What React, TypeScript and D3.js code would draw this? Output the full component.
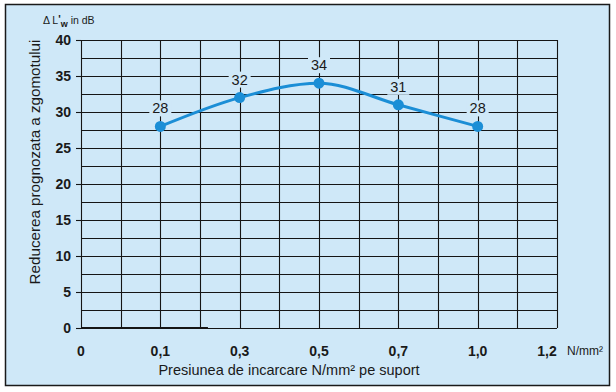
import { useEffect, useRef } from "react";
import * as d3 from "d3";

const xCategories = ["0", "0,1", "0,3", "0,5", "0,7", "1,0", "1,2"];
const pointCategories = ["0,1", "0,3", "0,5", "0,7", "1,0"];
const reductionValues = [28, 32, 34, 31, 28];
const yTicks = [0, 5, 10, 15, 20, 25, 30, 35, 40];

export default function App() {
  const svgRef = useRef<SVGSVGElement | null>(null);

  useEffect(() => {
    if (!svgRef.current) return;
    const svg = d3.select(svgRef.current);
    svg.selectAll("*").remove();

    const width = 616;
    const height = 392;
    const left = 81;
    const right = 557;
    const top = 40;
    const bottom = 328;
    const bg = "#cfe8f8";
    const font = "'Liberation Sans', Arial, sans-serif";

    svg.attr("width", width).attr("height", height);

    // panel
    svg
      .append("rect")
      .attr("x", 5.5)
      .attr("y", 4.5)
      .attr("width", 604)
      .attr("height", 381)
      .attr("fill", bg)
      .attr("stroke", "#1a1a1a")
      .attr("stroke-width", 1.5);

    const x = d3.scalePoint<string>().domain(xCategories).range([left, right]);
    const y = d3.scaleLinear().domain([0, 40]).range([bottom, top]);
    const step = x.step();

    const grid = svg.append("g").attr("stroke", "#151515").attr("stroke-width", 1.1);

    // horizontal grid every 2.5 dB
    d3.range(0, 40.01, 2.5).forEach((v) => {
      grid
        .append("line")
        .attr("x1", left)
        .attr("x2", right)
        .attr("y1", Math.round(y(v)) + 0.5)
        .attr("y2", Math.round(y(v)) + 0.5);
    });

    // vertical grid every half step
    d3.range(0, xCategories.length * 2 - 1).forEach((i) => {
      const xp = Math.round(left + (i * step) / 2) + 0.5;
      grid
        .append("line")
        .attr("x1", xp)
        .attr("x2", xp)
        .attr("y1", top)
        .attr("y2", bottom);
    });

    // thicker start of the baseline
    svg
      .append("line")
      .attr("x1", left)
      .attr("x2", left + step * 1.6)
      .attr("y1", y(0))
      .attr("y2", y(0))
      .attr("stroke", "#151515")
      .attr("stroke-width", 2.2);

    // y ticks + labels
    yTicks.forEach((v) => {
      svg
        .append("line")
        .attr("x1", left - 5)
        .attr("x2", left)
        .attr("y1", Math.round(y(v)) + 0.5)
        .attr("y2", Math.round(y(v)) + 0.5)
        .attr("stroke", "#151515")
        .attr("stroke-width", 1.1);
      svg
        .append("text")
        .attr("x", 71)
        .attr("y", y(v) + 5)
        .attr("text-anchor", "end")
        .attr("font-family", font)
        .attr("font-size", 14)
        .attr("font-weight", "bold")
        .attr("fill", "#1a1a1a")
        .text(v);
    });

    // x tick labels (last one sits left of its gridline)
    xCategories.forEach((c, i) => {
      const last = i === xCategories.length - 1;
      svg
        .append("text")
        .attr("x", last ? x(c)! - 10 : x(c)!)
        .attr("y", 356)
        .attr("text-anchor", "middle")
        .attr("font-family", font)
        .attr("font-size", 14)
        .attr("font-weight", "bold")
        .attr("fill", "#1a1a1a")
        .text(c);
    });

    svg
      .append("text")
      .attr("x", 567)
      .attr("y", 355)
      .attr("font-family", font)
      .attr("font-size", 12)
      .attr("fill", "#1a1a1a")
      .text("N/mm²");

    // axis titles
    svg
      .append("text")
      .attr("x", 289)
      .attr("y", 375)
      .attr("text-anchor", "middle")
      .attr("font-family", font)
      .attr("font-size", 14.5)
      .attr("fill", "#1a1a1a")
      .text("Presiunea de incarcare N/mm² pe suport");

    svg
      .append("text")
      .attr("transform", `translate(40,${162}) rotate(-90)`)
      .attr("text-anchor", "middle")
      .attr("font-family", font)
      .attr("font-size", 15.2)
      .attr("fill", "#1a1a1a")
      .text("Reducerea prognozata a zgomotului");

    const unit = svg
      .append("text")
      .attr("x", 43)
      .attr("y", 24)
      .attr("font-family", font)
      .attr("font-size", 10.5)
      .attr("fill", "#1a1a1a");
    unit.append("tspan").text("Δ L");
    unit.append("tspan").attr("font-weight", "bold").attr("dy", -1).text("'");
    unit.append("tspan").attr("font-size", 9).attr("font-weight", "bold").attr("dy", 4).text("w");
    unit.append("tspan").attr("dy", -3).text(" in dB");

    // data line
    const pts = pointCategories.map((c, i) => ({ c, v: reductionValues[i] }));
    const line = d3
      .line<{ c: string; v: number }>()
      .x((d) => x(d.c)!)
      .y((d) => y(d.v))
      .curve(d3.curveMonotoneX);

    svg
      .append("path")
      .datum(pts)
      .attr("d", line)
      .attr("fill", "none")
      .attr("stroke", "#1b8ed6")
      .attr("stroke-width", 3);

    svg
      .selectAll("circle.pt")
      .data(pts)
      .enter()
      .append("circle")
      .attr("class", "pt")
      .attr("cx", (d) => x(d.c)!)
      .attr("cy", (d) => y(d.v))
      .attr("r", 5.5)
      .attr("fill", "#1b8ed6");

    // value labels on a background patch that hides the grid
    const labels = svg
      .selectAll("g.val")
      .data(pts)
      .enter()
      .append("g")
      .attr("class", "val")
      .attr("transform", (d) => `translate(${x(d.c)},${y(d.v) - 13})`);

    labels
      .append("rect")
      .attr("x", -11)
      .attr("y", -13)
      .attr("width", 22)
      .attr("height", 16)
      .attr("fill", bg);

    labels
      .append("text")
      .attr("text-anchor", "middle")
      .attr("font-family", font)
      .attr("font-size", 14.5)
      .attr("fill", "#1a1a1a")
      .text((d) => d.v);
  }, []);

  return <svg ref={svgRef} style={{ position: "absolute", left: 0, top: 0 }}></svg>;
}
